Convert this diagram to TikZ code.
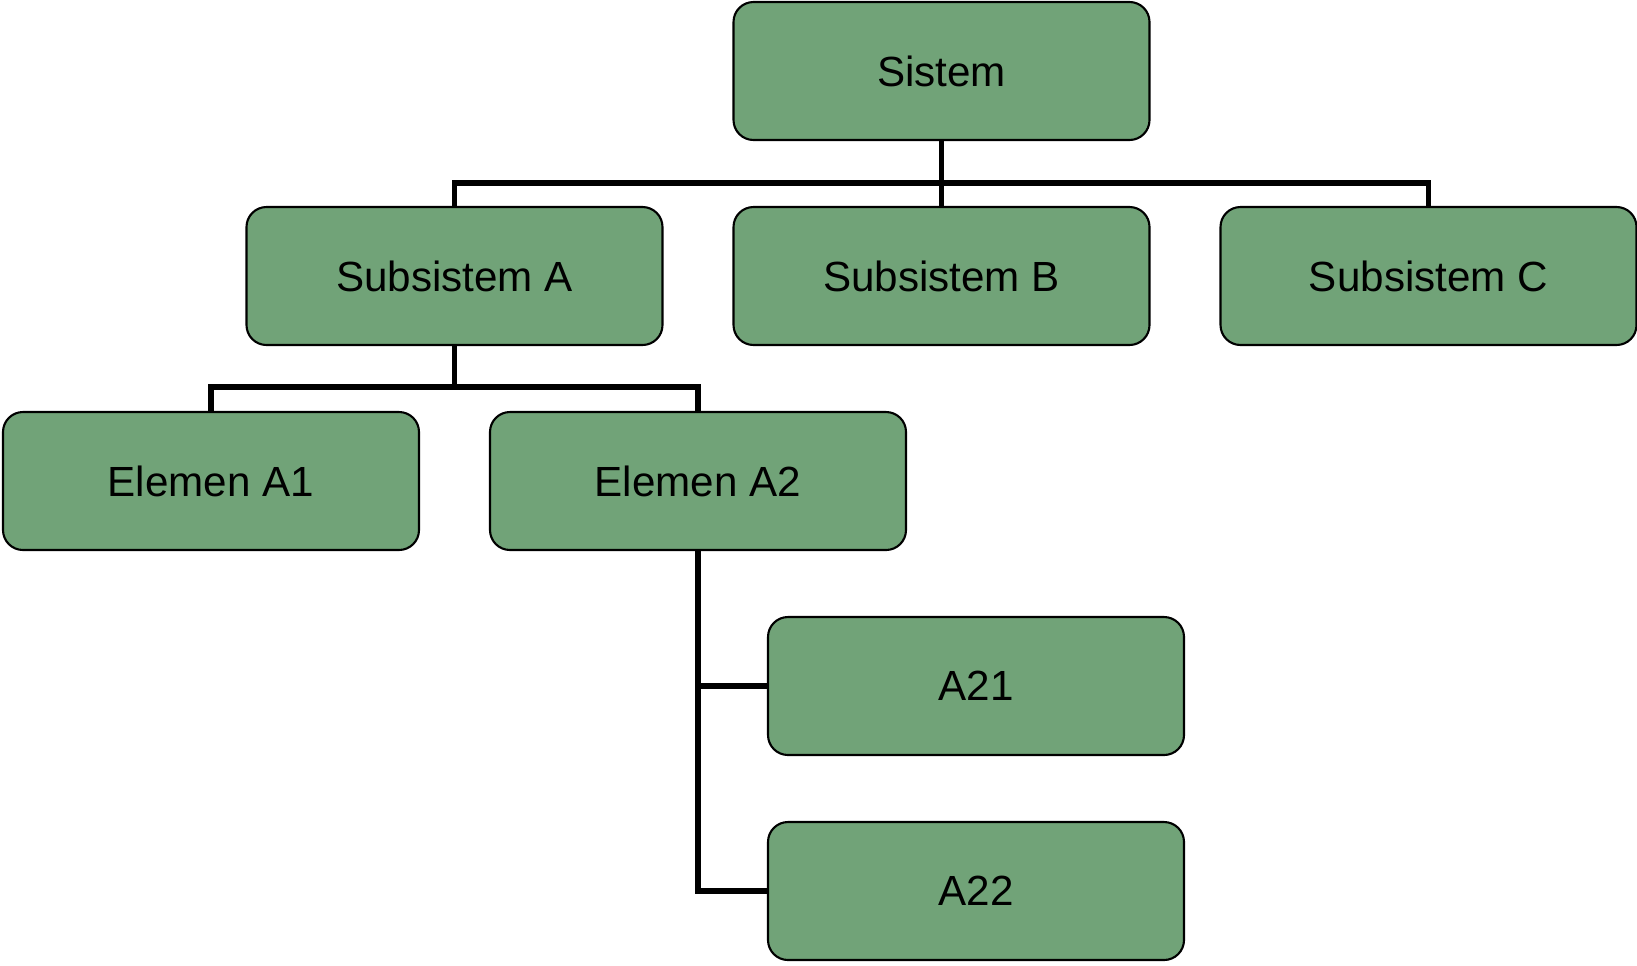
\documentclass[tikz,border=0pt]{standalone}
\usepackage{fontspec}
\setmainfont{Liberation Sans}
\usetikzlibrary{positioning}
\definecolor{boxgreen}{RGB}{113,163,120}
\tikzset{
  unit/.style={draw=black, line width=1.2pt, fill=boxgreen, rounded corners=0.4cm,
    minimum width=8.32cm, minimum height=2.76cm, inner sep=0pt, outer sep=0pt,
    font=\fontsize{24}{28}\selectfont},
  link/.style={line width=3.2pt}
}
\begin{document}
\begin{tikzpicture}
\useasboundingbox (0,0) rectangle (32.74,-19.3);
%draw the boxes
\node[unit] (sistem) at (18.83,-1.42) {Sistem};
\node[unit, below=1.34cm of sistem] (subB) {Subsistem B};
\node[unit, left=1.42cm of subB] (subA) {Subsistem A};
\node[unit, right=1.42cm of subB] (subC) {Subsistem C};
\node[unit, below=1.34cm of subA, xshift=-4.87cm] (elA1) {Elemen A1};
\node[unit, below=1.34cm of subA, xshift=4.87cm] (elA2) {Elemen A2};
\node[unit, below=1.34cm of elA2, xshift=5.56cm] (a21) {A21};
\node[unit, below=1.34cm of a21] (a22) {A22};
%draw the connectors
\draw[link] (sistem.south) -- (subB.north);
\draw[link] (subA.north) -- ++(0,0.48) -| (subC.north);
\draw[link] (subA.south) -- ++(0,-0.86);
\draw[link] (elA1.north) -- ++(0,0.5) -| (elA2.north);
\draw[link] (elA2.south) |- (a21.west);
\draw[link] (elA2.south) |- (a22.west);
\end{tikzpicture}
\end{document}
